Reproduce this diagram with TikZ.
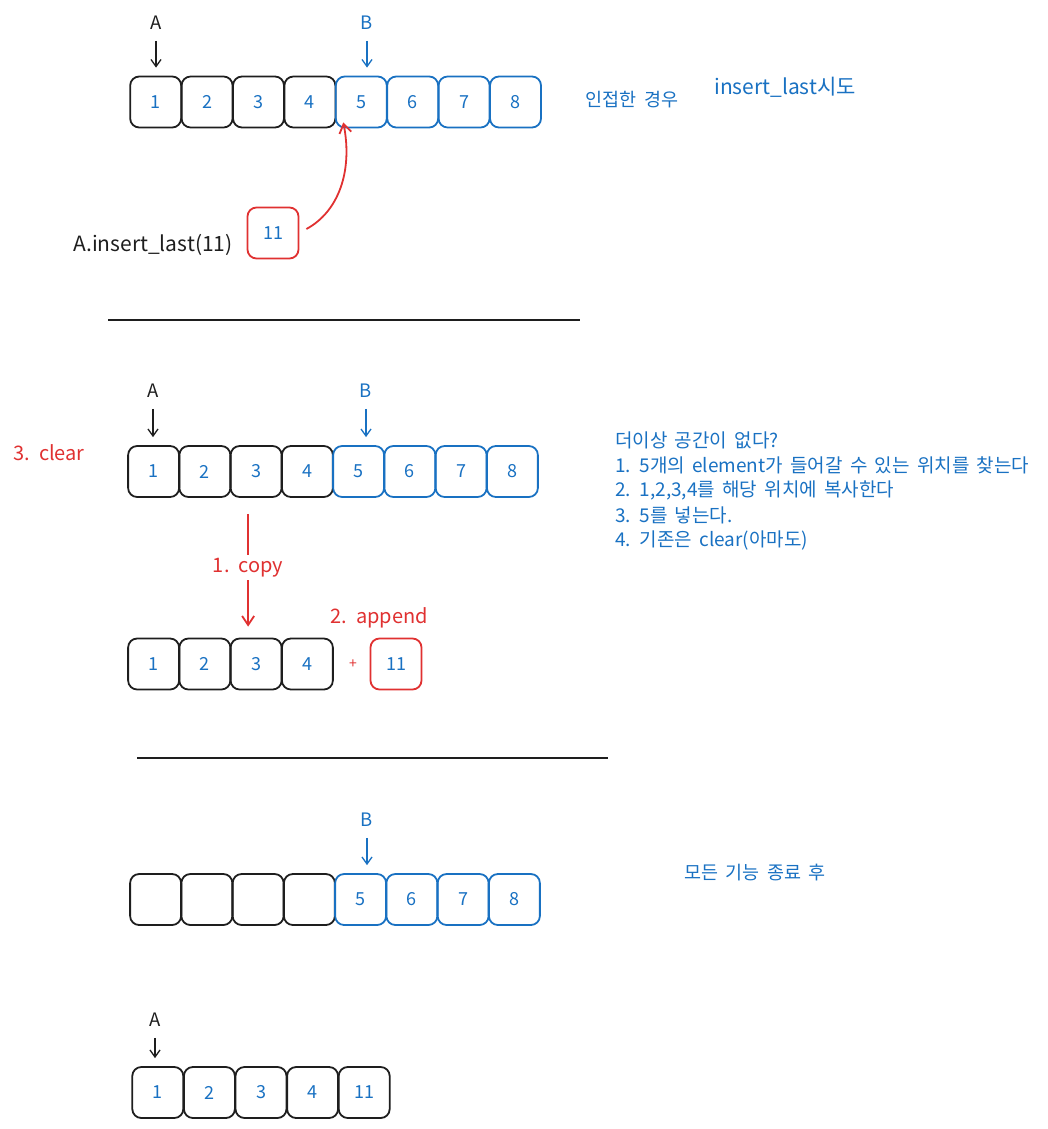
\documentclass[tikz,border=0pt]{standalone}
\usepackage{fontspec}
\setmainfont[WordSpace=1.7]{Noto Sans CJK KR}
\usetikzlibrary{arrows.meta}
\definecolor{ink}{HTML}{1E1E1E}
\definecolor{exblue}{HTML}{1971C2}
\definecolor{exred}{HTML}{E03131}
\begin{document}
\begin{tikzpicture}[x=1pt,y=-1pt,
  cell/.style={draw=ink, rounded corners=9pt, line width=1.8pt, minimum width=51pt, minimum height=51pt, inner sep=0pt, text=exblue, font=\fontsize{18}{20}\selectfont},
  bcell/.style={cell, draw=exblue},
  rcell/.style={cell, draw=exred},
  lbl/.style={inner sep=0pt, font=\fontsize{18.5}{22}\selectfont},
  ptr/.style={-{Straight Barb[length=7pt,width=10pt]}, line width=1.3pt, shorten <=11pt, shorten >=8pt},
  redarr/.style={-{Straight Barb[length=9pt,width=12pt]}, line width=1.8pt, draw=exred},
  divider/.style={line width=2.5pt, draw=ink},
]
\useasboundingbox (0,0) rectangle (1048,1129);

% ---------- section 1 ----------
\foreach \i in {1,...,4} \node[cell] (a\i) at ({130+51.4*(\i-0.5)},102) {\i};
\foreach \i in {5,...,8} \node[bcell] (a\i) at ({130+51.4*(\i-0.5)},102) {\i};
\node[lbl, text=ink] (pA1) at (156,23) {A};
\node[lbl, text=exblue] (pB1) at (367,23) {B};
\draw[ptr, ink] (pA1) -- (pA1 |- a1.north);
\draw[ptr, exblue] (pB1) -- (pB1 |- a5.north);
\node[lbl, text=exblue] (adj) at (632,100) {인접한 경우};
\node[lbl, text=exblue, font=\fontsize{21}{24}\selectfont] (tryl) at (785,87) {insert\_last시도};
\node[lbl, text=ink, font=\fontsize{21}{24}\selectfont] (call) at (153,245) {A.insert\_last(11)};
\node[rcell] (n11) at (273,233) {11};
\draw[redarr] ([xshift=7pt,yshift=4pt]n11.east) .. controls (338,212) and (353,172) .. ([xshift=-18pt,yshift=6pt]a5.south);

\draw[divider] (108,320) coordinate (d1a) -- (580,320) coordinate (d1b);

% ---------- section 2 ----------
\foreach \i in {1,...,4} \node[cell] (b\i) at ({128+51.25*(\i-0.5)},471.5) {\i};
\foreach \i in {5,...,8} \node[bcell] (b\i) at ({128+51.25*(\i-0.5)},471.5) {\i};
\node[lbl, text=ink] (pA2) at (153,391) {A};
\node[lbl, text=exblue] (pB2) at (366,391) {B};
\draw[ptr, ink] (pA2) -- (pA2 |- b1.north);
\draw[ptr, exblue] (pB2) -- (pB2 |- b5.north);
\node[lbl, text=exred, font=\fontsize{20}{22}\selectfont] (clr) at (49,453) {3. clear};

\foreach \i in {1,...,4} \node[cell] (c\i) at ({128+51.25*(\i-0.5)},664) {\i};
\node[lbl, text=exred, font=\fontsize{14}{16}\selectfont] (plus) at (353,664) {+};
\node[rcell] (c5) at (396,664) {11};
\node[lbl, text=exred, font=\fontsize{20}{22}\selectfont] (app) at (379,618) {2. append};
\draw[redarr, shorten <=16pt, shorten >=11pt] ([xshift=-8pt]b3.south) -- node[lbl, fill=white, text=exred, inner ysep=3pt, font=\fontsize{20}{22}\selectfont] (cpy) {1. copy} ([xshift=-8pt]c3.north);

\node[lbl, text=exblue, anchor=west, font=\fontsize{19}{22}\selectfont] (t1) at (615,440) {더이상 공간이 없다?};
\node[lbl, text=exblue, anchor=west, font=\fontsize{19}{22}\selectfont] (t2) at (615,465) {1. 5개의 element가 들어갈 수 있는 위치를 찾는다};
\node[lbl, text=exblue, anchor=west, font=\fontsize{19}{22}\selectfont] (t3) at (615,490) {2. 1,2,3,4를 해당 위치에 복사한다};
\node[lbl, text=exblue, anchor=west, font=\fontsize{19}{22}\selectfont] (t4) at (615,515) {3. 5를 넣는다.};
\node[lbl, text=exblue, anchor=west, font=\fontsize{19}{22}\selectfont] (t5) at (615,540) {4. 기존은 clear(아마도)};

\draw[divider] (137,758) coordinate (d2a) -- (608,758) coordinate (d2b);

% ---------- section 3 ----------
\foreach \i in {1,...,4} \node[cell] (e\i) at ({130+51.25*(\i-0.5)},899.5) {};
\foreach \i in {5,...,8} \node[bcell] (e\i) at ({130+51.25*(\i-0.5)},899.5) {\i};
\node[lbl, text=exblue] (pB3) at (367,820) {B};
\draw[ptr, exblue] (pB3) -- (pB3 |- e5.north);
\node[lbl, text=exblue] (done) at (755,873) {모든 기능 종료 후};

\foreach \i in {1,...,4} \node[cell] (f\i) at ({132+51.6*(\i-0.5)},1092.5) {\i};
\node[cell] (f5) at ({132+51.6*4.5},1092.5) {11};
\node[lbl, text=ink] (pA3) at (155,1020) {A};
\draw[ptr, ink] (pA3) -- (pA3 |- f1.north);
\end{tikzpicture}
\end{document}
